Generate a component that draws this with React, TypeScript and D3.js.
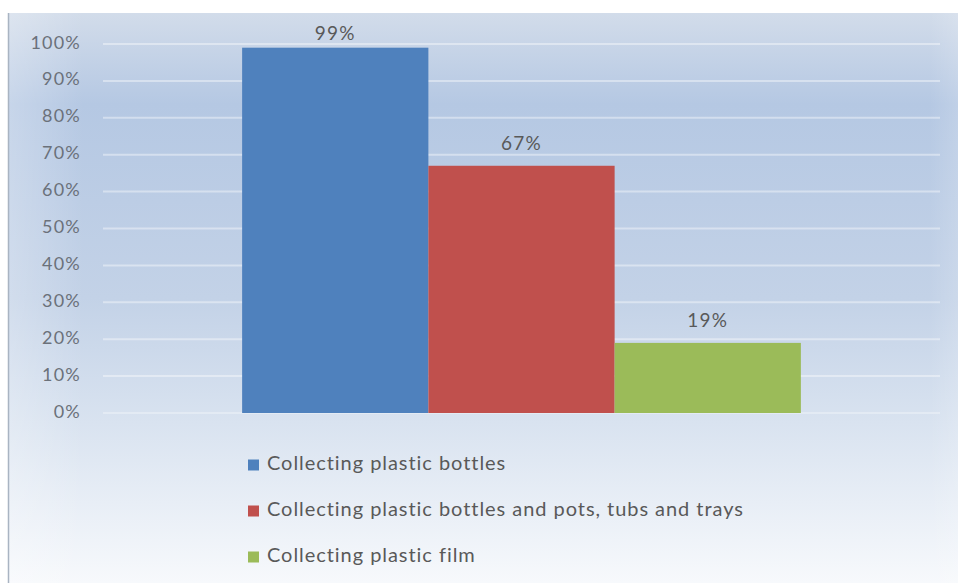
import React from "react";
import * as d3 from "d3";

// Share of respondents per collection service
const seriesNames = [
  "Collecting plastic bottles",
  "Collecting plastic bottles and pots, tubs and trays",
  "Collecting plastic film",
];
const seriesValues = [0.99, 0.67, 0.19];
const seriesColors = ["#4f81bd", "#c0504d", "#9bbb59"];
const yTicks = [0, 0.1, 0.2, 0.3, 0.4, 0.5, 0.6, 0.7, 0.8, 0.9, 1.0];
const category = ["All"];

const W = 958;
const H = 583;
const FONT = "Lato, 'Open Sans', sans-serif";

export default function App() {
  const plotLeft = 103;
  const plotRight = 940;

  const y = d3.scaleLinear().domain([0, 1]).range([413, 44]);
  const xOuter = d3
    .scaleBand<string>()
    .domain(category)
    .range([plotLeft, plotRight])
    .paddingInner(0)
    .paddingOuter(0.249);
  const xInner = d3
    .scaleBand<string>()
    .domain(seriesNames)
    .range([0, xOuter.bandwidth()])
    .padding(0);
  const fmt = d3.format(".0%");

  const legendY = d3.scalePoint<string>().domain(seriesNames).range([465, 557]);

  return (
    <svg
      width={W}
      height={H}
      style={{ position: "fixed", left: 0, top: 0, display: "block" }}
    >
      <defs>
        <linearGradient id="bg" x1="0" y1="0" x2="0" y2="1">
          <stop offset="0" stopColor="#d2dcea" />
          <stop offset="0.16" stopColor="#b5c8e3" />
          <stop offset="0.5" stopColor="#c3d2e7" />
          <stop offset="0.72" stopColor="#d9e3f0" />
          <stop offset="1" stopColor="#f7f9fc" />
        </linearGradient>
        <linearGradient id="edge" x1="0" y1="0" x2="1" y2="0">
          <stop offset="0" stopColor="#ffffff" stopOpacity="0.25" />
          <stop offset="0.08" stopColor="#ffffff" stopOpacity="0" />
          <stop offset="0.97" stopColor="#ffffff" stopOpacity="0" />
          <stop offset="1" stopColor="#ffffff" stopOpacity="0.15" />
        </linearGradient>
      </defs>
      <rect x={0} y={0} width={W} height={H} fill="#ffffff" />
      <rect x={8} y={13} width={W - 8} height={H - 13} fill="url(#bg)" />
      <rect x={8} y={13} width={W - 8} height={H - 13} fill="url(#edge)" />
      <line x1={8.5} x2={8.5} y1={13} y2={H} stroke="#a9b4c2" strokeWidth={1.5} />

      {/* gridlines */}
      {yTicks.map((t) => (
        <line
          key={"g" + t}
          x1={plotLeft}
          x2={plotRight}
          y1={y(t)}
          y2={y(t)}
          stroke="#ffffff"
          strokeOpacity={t === 0 ? 0.3 : 0.4}
          strokeWidth={2}
        />
      ))}

      {/* y-axis labels */}
      {yTicks.map((t) => (
        <text
          key={"t" + t}
          x={81}
          y={y(t)}
          textAnchor="end"
          dominantBaseline="middle"
          fontFamily={FONT}
          fontSize={18}
          letterSpacing={1.2}
          fill="#6b717a"
        >
          {fmt(t)}
        </text>
      ))}

      {/* bars */}
      {category.map((c) =>
        seriesNames.map((s, i) => {
          const x0 = (xOuter(c) ?? 0) + (xInner(s) ?? 0);
          const top = y(seriesValues[i]);
          return (
            <g key={s}>
              <rect
                x={x0}
                y={top}
                width={xInner.bandwidth()}
                height={y(0) - top}
                fill={seriesColors[i]}
              />
              <text
                x={x0 + xInner.bandwidth() / 2}
                y={Math.max(top - 16, 40)}
                textAnchor="middle"
                fontFamily={FONT}
                fontSize={19}
                letterSpacing={1.2}
                fill="#595959"
              >
                {fmt(seriesValues[i])}
              </text>
            </g>
          );
        })
      )}

      {/* legend */}
      {seriesNames.map((s, i) => {
        const ly = legendY(s) ?? 0;
        return (
          <g key={"l" + s}>
            <rect x={248} y={ly - 5.5} width={11} height={11} fill={seriesColors[i]} />
            <text
              x={267}
              y={ly}
              dominantBaseline="middle"
              fontFamily={FONT}
              fontSize={20}
              letterSpacing={0.95}
              fill="#595959"
            >
              {s}
            </text>
          </g>
        );
      })}
    </svg>
  );
}
